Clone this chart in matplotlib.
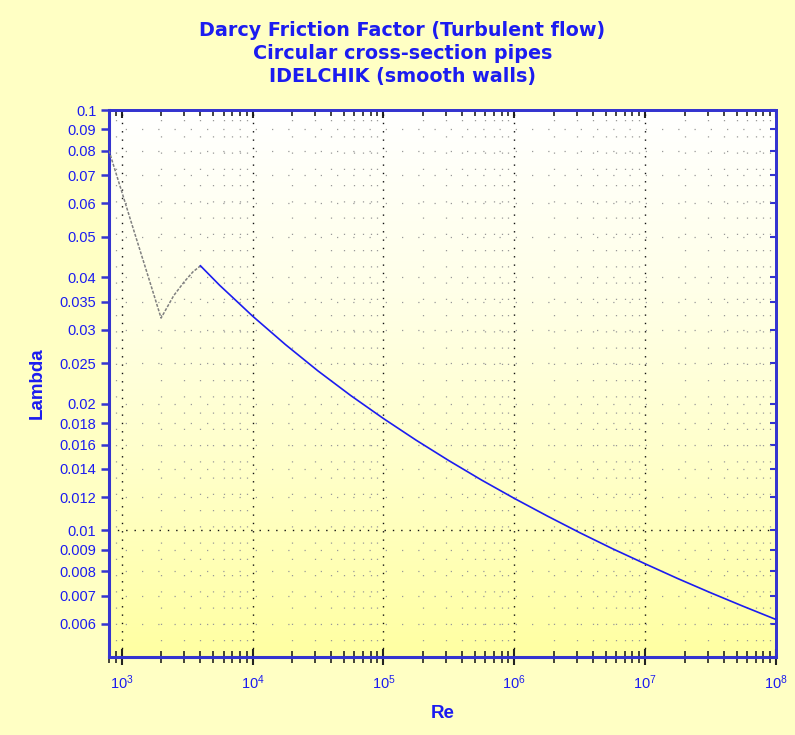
import numpy as np
import matplotlib
matplotlib.use("Agg")
import matplotlib.pyplot as plt
from matplotlib.colors import LinearSegmentedColormap
from matplotlib.ticker import FixedLocator, NullFormatter, FixedFormatter

plt.rcParams["mathtext.default"] = "regular"

# Laminar + transition part (gray dashed)
re_lam = [800, 1000, 1250, 1500, 1750, 2000, 2500, 3000, 3500, 4000]
lam_lam = [0.080, 0.064, 0.0512, 0.0427, 0.0366, 0.032, 0.0362, 0.0390, 0.0412, 0.0426]

# Turbulent (smooth walls, blue)
re_turb = [4000, 5000, 5600, 7000, 1e4, 1.78e4, 3.16e4, 5.62e4, 1e5, 1.78e5, 3.16e5, 5.62e5,
           1e6, 1.78e6, 3.16e6, 5.62e6, 1e7, 1.78e7, 3.16e7, 5.62e7, 1e8]
lam_turb = [0.0426, 0.0397, 0.0383, 0.0359, 0.03235, 0.02769, 0.02396, 0.02094, 0.01846,
            0.01639, 0.01466, 0.01318, 0.01192, 0.01083, 0.00988, 0.00905, 0.00833,
            0.00768, 0.00711, 0.00660, 0.00614]

ytick_vals = [0.1, 0.09, 0.08, 0.07, 0.06, 0.05, 0.04, 0.035, 0.03, 0.025, 0.02,
              0.018, 0.016, 0.014, 0.012, 0.01, 0.009, 0.008, 0.007, 0.006]
ytick_labels = ["0.1", "0.09", "0.08", "0.07", "0.06", "0.05", "0.04", "0.035", "0.03", "0.025", "0.02",
                "0.018", "0.016", "0.014", "0.012", "0.01", "0.009", "0.008", "0.007", "0.006"]
xmajor = [1e3, 1e4, 1e5, 1e6, 1e7, 1e8]
xmajor_labels = [r"$10^3$", r"$10^4$", r"$10^5$", r"$10^6$", r"$10^7$", r"$10^8$"]

BLUE = "#1c1cf0"
SPINE = "#3434d0"
FIGBG = "#ffffc4"
FONT = "Liberation Sans"

fig = plt.figure(figsize=(7.95, 7.35), dpi=100, facecolor=FIGBG)
pos = [109/795, 1-657/735, (776-109)/795, (657-110)/735]

# gradient background
bg = fig.add_axes(pos, zorder=0)
cmap = LinearSegmentedColormap.from_list("g", ["#ffffff", "#ffffe8", "#ffffc8", "#ffffa2"])
grad = np.linspace(0, 1, 256).reshape(-1, 1)
bg.imshow(grad, cmap=cmap, aspect="auto", extent=[0, 1, 0, 1], origin="upper")
bg.set_axis_off()

ax = fig.add_axes(pos, zorder=1)
ax.patch.set_alpha(0)
ax.set_xscale("log")
ax.set_yscale("log")
ax.set_xlim(800, 1e8)
ax.set_ylim(0.005, 0.1)

# grids
minor_x = [m * 10**e for e in range(2, 8) for m in range(2, 10) if 800 <= m * 10**e < 1e8]
for x in minor_x:
    ax.axvline(x, color="#999999", lw=0.9, ls=(0, (1, 12)), zorder=1)
for x in xmajor[:-1]:
    ax.axvline(x, color="#111111", lw=1.0, ls=(0, (1, 5)), zorder=1)
for y in ytick_vals:
    if y in (0.1, 0.01):
        continue
    ax.axhline(y, color="#999999", lw=0.9, ls=(0, (1, 12)), zorder=1)
ax.axhline(0.01, color="#111111", lw=1.0, ls=(0, (1, 5)), zorder=1)

ax.plot(re_lam, lam_lam, color="#808080", lw=1.1, ls=(0, (2, 1)), zorder=3)
ax.plot(re_turb, lam_turb, color=BLUE, lw=1.2, zorder=3)

# ticks
ax.xaxis.set_major_locator(FixedLocator(xmajor))
ax.xaxis.set_major_formatter(FixedFormatter(xmajor_labels))
ax.xaxis.set_minor_locator(FixedLocator(minor_x))
ax.xaxis.set_minor_formatter(NullFormatter())
ax.yaxis.set_major_locator(FixedLocator(ytick_vals))
ax.yaxis.set_major_formatter(FixedFormatter(ytick_labels))
ax.yaxis.set_minor_locator(FixedLocator([]))

ax.tick_params(axis="x", which="major", direction="inout", length=12, width=1.5, color="#222222",
               labelsize=10.5, labelcolor=BLUE, pad=6)
ax.tick_params(axis="x", which="minor", direction="inout", length=8, width=1.2, color="#222222")
ax.tick_params(axis="y", which="major", direction="out", length=6, width=1.8, color=SPINE,
               labelsize=10.5, labelcolor=BLUE, pad=3)
for lbl in ax.get_xticklabels() + ax.get_yticklabels():
    lbl.set_fontfamily(FONT)

# top / right inward ticks
secx = ax.secondary_xaxis("top")
secx.xaxis.set_major_locator(FixedLocator(xmajor))
secx.xaxis.set_minor_locator(FixedLocator(minor_x))
secx.xaxis.set_major_formatter(NullFormatter())
secx.xaxis.set_minor_formatter(NullFormatter())
secx.tick_params(which="major", direction="in", length=6, width=1.5, color="#222222")
secx.tick_params(which="minor", direction="in", length=4, width=1.2, color="#222222")
secx.spines["top"].set_color(SPINE)
secx.spines["top"].set_linewidth(2.0)

secy = ax.secondary_yaxis("right")
secy.yaxis.set_major_locator(FixedLocator(ytick_vals))
secy.yaxis.set_minor_locator(FixedLocator([]))
secy.yaxis.set_major_formatter(NullFormatter())
secy.tick_params(which="major", direction="in", length=4, width=1.5, color=SPINE)
secy.spines["right"].set_color(SPINE)
secy.spines["right"].set_linewidth(2.0)

for s in ["left", "bottom"]:
    ax.spines[s].set_color(SPINE)
    ax.spines[s].set_linewidth(2.2)
for s in ["right", "top"]:
    ax.spines[s].set_color(SPINE)
    ax.spines[s].set_linewidth(2.0)

ax.set_xlabel("Re", color=BLUE, fontsize=13.5, fontweight="bold", labelpad=9, family=FONT)
ax.set_ylabel("Lambda", color=BLUE, fontsize=13.5, fontweight="bold", labelpad=10, family=FONT)

fig.text(0.506, 0.971, "Darcy Friction Factor (Turbulent flow)\nCircular cross-section pipes\nIDELCHIK (smooth walls)",
         ha="center", va="top", color=BLUE, fontsize=13.8, fontweight="bold", linespacing=1.26,
         family="DejaVu Sans")

fig.savefig("out.png", dpi=100, facecolor=FIGBG)
